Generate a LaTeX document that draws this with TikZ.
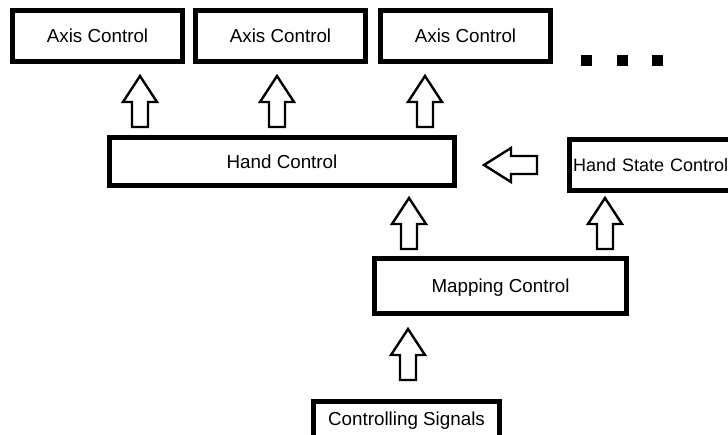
\documentclass[tikz,border=0pt]{standalone}
\usepackage{fontspec}
\setmainfont{Liberation Sans}
\usetikzlibrary{calc}

\tikzset{
  box/.style={draw, line width=5pt, font=\fontsize{18.8}{22}\selectfont, text depth=0pt, inner sep=0pt},
  hollow/.style={draw, line width=2.4pt, fill=white, line join=miter},
  dot/.style={fill, minimum size=11pt, inner sep=0pt},
  pics/uparr/.style={code={
    \draw[hollow] (0,0) -- (17,26) -- (8,26) -- (8,51) -- (-8,51) -- (-8,26) -- (-17,26) -- cycle;}},
  pics/leftarr/.style={code={
    \draw[hollow] (0,0) -- (27,-17) -- (27,-9) -- (53,-9) -- (53,9) -- (27,9) -- (27,17) -- cycle;}}
}

\begin{document}
\begin{tikzpicture}[x=1pt,y=-1pt]
\useasboundingbox (0,0) rectangle (728,434);

% axis level
\node[box, minimum width=170pt, minimum height=51pt] (ax1) at (97.5,36) {Axis Control};
\node[box, minimum width=170pt, minimum height=51pt] (ax2) at (280.5,36) {Axis Control};
\node[box, minimum width=170pt, minimum height=51pt] (ax3) at (465.5,36) {Axis Control};
\node[dot] (d1) at (586,60) {};
\node[dot] (d2) at (622,60) {};
\node[dot] (d3) at (657,60) {};

% hand level
\node[box, minimum width=345pt, minimum height=48pt] (hand) at (282,161.5) {Hand Control};
\node[box, anchor=west, text width=190pt, align=left, inner xsep=4pt, minimum height=51pt,
  font=\fontsize{18}{22}\selectfont] (hsc) at (566.5,165) {Hand State Control};

% mapping and input
\node[box, minimum width=252pt, minimum height=55pt] (map) at (500.5,286) {Mapping Control};
\node[box, anchor=north, minimum width=186pt, text height=13.5pt, text depth=30pt, inner ysep=11pt] (sig) at (406.5,398.5) {Controlling Signals};

% block arrows
\pic at ($(140,0 |- ax1.south)+(0,12)$) {uparr};
\pic at ($(277,0 |- ax2.south)+(0,12)$) {uparr};
\pic at ($(425,0 |- ax3.south)+(0,12)$) {uparr};
\pic at ($(409,0 |- hand.south)+(0,10)$) {uparr};
\pic at ($(605,0 |- hsc.south)+(0,5)$) {uparr};
\pic at ($(408,0 |- map.south)+(0,13)$) {uparr};
\pic at ($(hand.east)+(27,3.5)$) {leftarr};
\end{tikzpicture}
\end{document}
